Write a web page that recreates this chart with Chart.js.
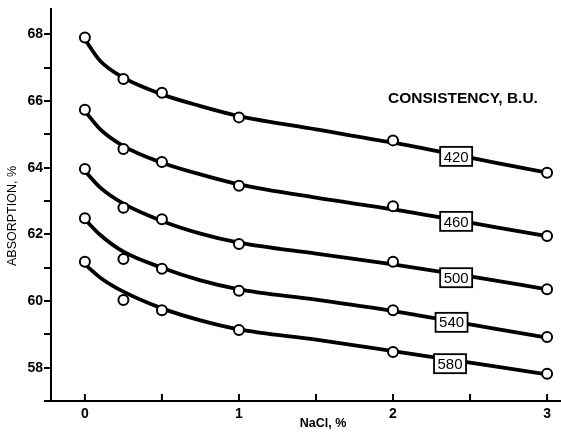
<!DOCTYPE html>
<html>
<head>
<meta charset="utf-8">
<script src="https://cdn.jsdelivr.net/npm/chart.js@4.4.1/dist/chart.umd.min.js"></script>
<style>
  body { margin: 0; background: #fff; }
  #wrap { width: 561px; height: 433px; }
</style>
</head>
<body>
<div id="wrap"><canvas id="grafico" width="561" height="433"></canvas></div>
<script>
// valores
var naclPts = [0, 0.25, 0.5, 1, 2, 3];
var abs420 = [67.91, 66.66, 66.25, 65.51, 64.82, 63.85];
var abs460 = [65.74, 64.56, 64.17, 63.46, 62.84, 61.95];
var abs500 = [63.96, 62.80, 62.45, 61.71, 61.18, 60.35];
var abs540 = [62.48, 61.26, 60.97, 60.31, 59.72, 58.92];
var abs580 = [61.18, 60.03, 59.72, 59.13, 58.47, 57.82];

// curvas ajustadas (lidas ao longo das linhas)
var naclCurva = [0, 0.1, 0.25, 0.5, 0.75, 1, 1.5, 2, 2.5, 3];
var curva420 = [67.85, 67.20, 66.70, 66.20, 65.85, 65.55, 65.15, 64.75, 64.30, 63.85];
var curva460 = [65.70, 65.15, 64.65, 64.15, 63.80, 63.50, 63.10, 62.75, 62.35, 61.95];
var curva500 = [63.90, 63.40, 62.92, 62.40, 62.02, 61.75, 61.42, 61.10, 60.74, 60.35];
var curva540 = [62.45, 61.98, 61.48, 61.00, 60.62, 60.35, 60.04, 59.70, 59.30, 58.90];
var curva580 = [61.10, 60.70, 60.28, 59.78, 59.42, 59.15, 58.84, 58.50, 58.15, 57.80];

var rotulos = ['420', '460', '500', '540', '580'];
var rotuloX = [2.41, 2.41, 2.41, 2.38, 2.37];
var rotuloY = [64.34, 62.39, 60.70, 59.36, 58.12];

var yTicks = [57, 58, 59, 60, 61, 62, 63, 64, 65, 66, 67, 68];
var xTicks = [0, 0.5, 1, 1.5, 2, 2.5, 3];

var fonte = '"Liberation Sans", Arial, sans-serif';

function pares(xs, ys) {
  return xs.map(function(x, i) { return { x: x, y: ys[i] }; });
}

var series = [abs420, abs460, abs500, abs540, abs580];
var curvas = [curva420, curva460, curva500, curva540, curva580];
var datasets = [];

curvas.forEach(function(c, i) {
  datasets.push({
    type: 'line',
    label: 'curva ' + rotulos[i],
    data: pares(naclCurva, c),
    borderColor: '#000',
    borderWidth: 3.8,
    pointRadius: 0,
    cubicInterpolationMode: 'monotone',
    fill: false,
    order: 2
  });
});

series.forEach(function(s, i) {
  datasets.push({
    type: 'scatter',
    label: rotulos[i],
    data: pares(naclPts, s),
    showLine: false,
    pointRadius: 5,
    pointBackgroundColor: '#fff',
    pointBorderColor: '#000',
    pointBorderWidth: 2,
    order: 1
  });
});

// desenha caixas com os rótulos, títulos e marcas do eixo x
var extras = {
  id: 'extras',
  afterDatasetsDraw: function(chart) {
    var ctx = chart.ctx;
    var xs = chart.scales.x, ys = chart.scales.y;
    ctx.save();
    rotulos.forEach(function(r, i) {
      var cx = xs.getPixelForValue(rotuloX[i]);
      var cy = ys.getPixelForValue(rotuloY[i]);
      ctx.fillStyle = '#fff';
      ctx.fillRect(cx - 16, cy - 9.5, 32, 19);
      ctx.strokeStyle = '#000';
      ctx.lineWidth = 1.8;
      ctx.strokeRect(cx - 16, cy - 9.5, 32, 19);
      ctx.fillStyle = '#000';
      ctx.font = '15px ' + fonte;
      ctx.textAlign = 'center';
      ctx.textBaseline = 'middle';
      ctx.fillText(r, cx, cy + 1);
    });
    ctx.restore();
  },
  afterDraw: function(chart) {
    var ctx = chart.ctx;
    var xs = chart.scales.x;
    var area = chart.chartArea;
    ctx.save();
    // marcas do eixo x para dentro
    ctx.strokeStyle = '#000';
    ctx.lineWidth = 2;
    xTicks.forEach(function(t) {
      var px = xs.getPixelForValue(t);
      ctx.beginPath();
      ctx.moveTo(px, area.bottom);
      ctx.lineTo(px, area.bottom - 7);
      ctx.stroke();
    });
    // eixo x continua até a borda
    ctx.beginPath();
    ctx.moveTo(area.right, area.bottom);
    ctx.lineTo(561, area.bottom);
    ctx.stroke();
    ctx.fillStyle = '#000';
    ctx.textAlign = 'center';
    ctx.textBaseline = 'middle';
    ctx.font = 'bold 15.5px ' + fonte;
    ctx.fillText('CONSISTENCY, B.U.', 463, 99);
    ctx.font = 'bold 12.5px ' + fonte;
    ctx.fillText('NaCl, %', 323, 424);
    ctx.translate(13, 216);
    ctx.rotate(-Math.PI / 2);
    ctx.font = '12.5px ' + fonte;
    ctx.fillText('ABSORPTION, %', 0, 0);
    ctx.restore();
  }
};

new Chart(document.getElementById('grafico'), {
  data: { datasets: datasets },
  options: {
    responsive: false,
    animation: false,
    layout: { padding: { top: 5, right: 0, left: 0, bottom: 0 } },
    plugins: { legend: { display: false }, tooltip: { enabled: false } },
    scales: {
      x: {
        type: 'linear',
        min: -0.22,
        max: 3.045,
        afterBuildTicks: function(scale) {
          scale.ticks = xTicks.map(function(v) { return { value: v }; });
        },
        afterFit: function(scale) { scale.height = 32; },
        grid: { display: true, drawOnChartArea: false, drawTicks: false },
        border: { color: '#000', width: 2 },
        ticks: {
          color: '#000',
          padding: 5,
          font: { family: fonte, size: 14, weight: 'bold' },
          callback: function(v) { return Number.isInteger(v) ? String(v) : ''; }
        }
      },
      y: {
        type: 'linear',
        min: 57,
        max: 68.75,
        afterBuildTicks: function(scale) {
          scale.ticks = yTicks.map(function(v) { return { value: v }; });
        },
        afterFit: function(scale) { scale.width = 51; },
        grid: { drawOnChartArea: false, drawTicks: true, tickLength: 7, color: '#000', lineWidth: 2 },
        border: { color: '#000', width: 2 },
        ticks: {
          color: '#000',
          padding: 1,
          font: { family: fonte, size: 14, weight: 'bold' },
          callback: function(v) { return v % 2 === 0 ? String(v) : ''; }
        }
      }
    }
  },
  plugins: [extras]
});
</script>
</body>
</html>
